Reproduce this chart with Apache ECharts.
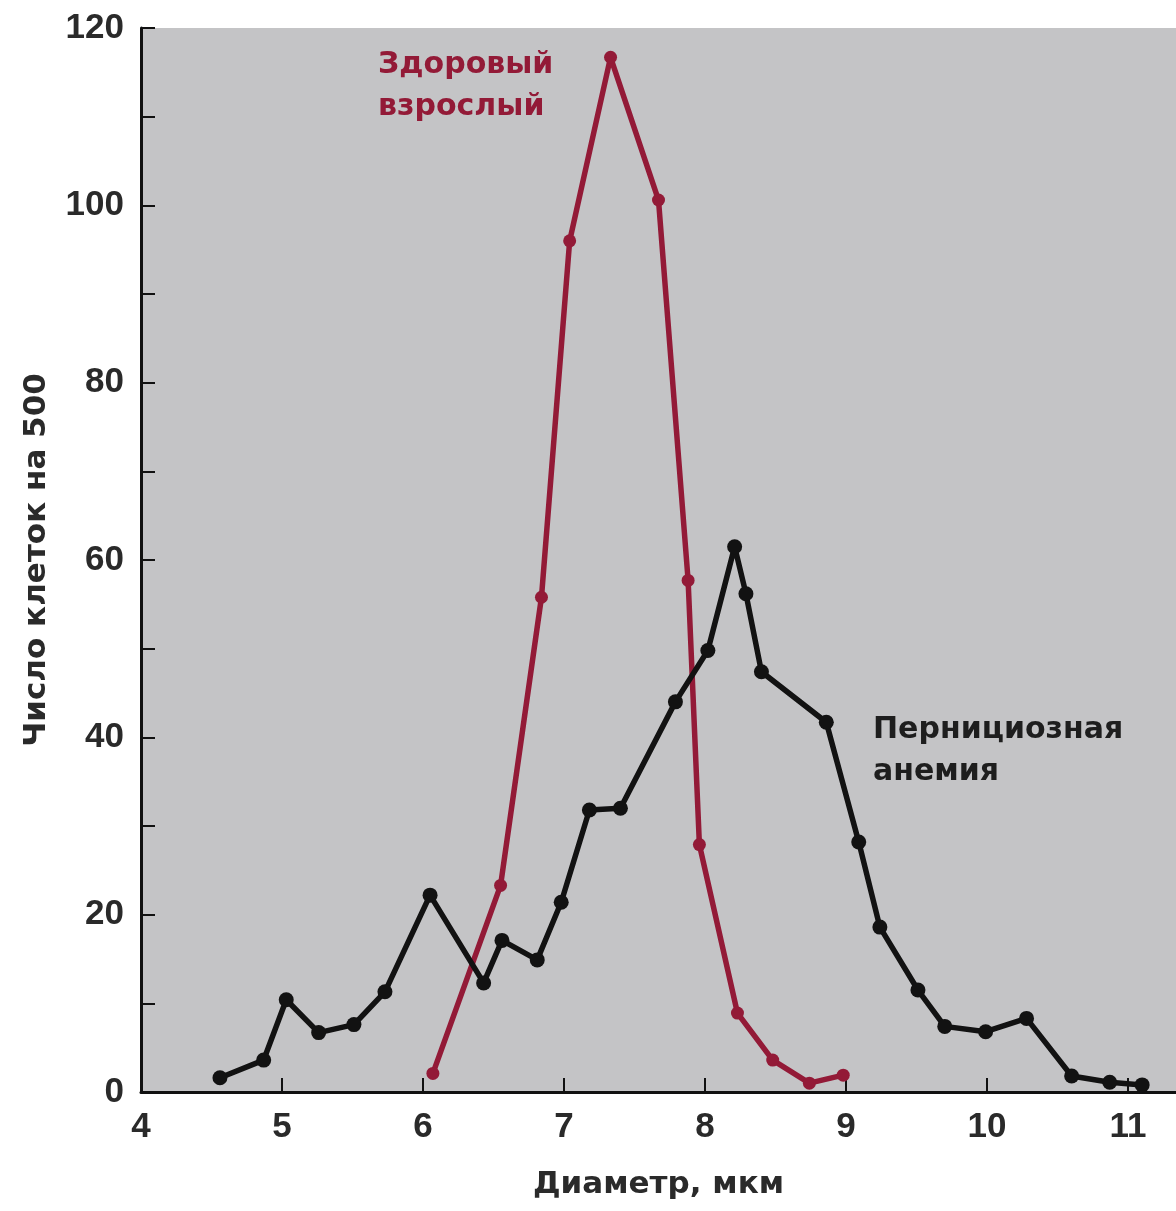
<!DOCTYPE html>
<html>
<head>
<meta charset="utf-8">
<script src="https://cdn.jsdelivr.net/npm/echarts@6/dist/echarts.min.js"></script>
<style>
  html, body { margin: 0; padding: 0; background: #fff; }
  #chart { width: 1176px; height: 1211px; }
</style>
</head>
<body>
<div id="chart"></div>
<script>
// Здоровый взрослый (диаметр, число клеток)
const healthyX = [6.07, 6.55, 6.84, 7.04, 7.33, 7.67, 7.88, 7.96, 8.23, 8.48, 8.74, 8.98];
const healthyY = [2.1, 23.3, 55.8, 96, 116.7, 100.6, 57.7, 27.9, 8.9, 3.6, 1.0, 1.9];

// Пернициозная анемия
const anemiaX = [4.56, 4.87, 5.03, 5.26, 5.51, 5.73, 6.05, 6.43, 6.56, 6.81, 6.98, 7.18, 7.40,
  7.79, 8.02, 8.21, 8.29, 8.40, 8.86, 9.09, 9.24, 9.51, 9.70, 9.99, 10.28, 10.60, 10.87, 11.10];
const anemiaY = [1.6, 3.6, 10.4, 6.7, 7.6, 11.3, 22.2, 12.3, 17.1, 14.9, 21.4, 31.8, 32.0,
  44.0, 49.8, 61.5, 56.2, 47.4, 41.7, 28.2, 18.6, 11.5, 7.4, 6.8, 8.3, 1.8, 1.1, 0.8];

const xTicks = [4, 5, 6, 7, 8, 9, 10, 11];
const yTicks = [0, 20, 40, 60, 80, 100, 120];

const healthyColor = "#931a37";
const anemiaColor = "#121212";
const numFont = "Liberation Sans";
const textFont = "DejaVu Sans";

const zip = (xs, ys) => xs.map((x, i) => [x, ys[i]]);

const chart = echarts.init(document.getElementById("chart"));
chart.setOption({
  animation: false,
  backgroundColor: "#ffffff",
  grid: {
    left: 141,
    top: 28,
    right: 0,
    bottom: 119,
    show: true,
    backgroundColor: "#c4c4c6",
    borderWidth: 0,
  },
  xAxis: {
    type: "value",
    min: 4,
    max: 11.34,
    interval: 1,
    name: "Диаметр, мкм",
    nameLocation: "middle",
    nameGap: 77,
    nameTextStyle: { color: "#2a2a2a", fontSize: 31, fontWeight: "bold", fontFamily: textFont },
    axisLine: { show: true, lineStyle: { color: "#111", width: 3 } },
    axisTick: { show: true, inside: true, length: 14, lineStyle: { color: "#111", width: 2 } },
    splitLine: { show: false },
    axisLabel: {
      color: "#2a2a2a",
      fontSize: 35,
      fontWeight: "bold",
      fontFamily: numFont,
      margin: 18,
      showMaxLabel: false,
      formatter: (v) => (xTicks.includes(v) ? String(v) : ""),
    },
  },
  yAxis: {
    type: "value",
    min: 0,
    max: 120,
    interval: 20,
    name: "Число клеток на 500",
    nameLocation: "middle",
    nameGap: 89,
    nameRotate: 90,
    nameTextStyle: { color: "#2a2a2a", fontSize: 31, fontWeight: "bold", fontFamily: textFont },
    axisLine: { show: true, lineStyle: { color: "#111", width: 3 } },
    axisTick: { show: true, inside: true, length: 14, lineStyle: { color: "#111", width: 2 } },
    minorTick: { show: true, splitNumber: 2, length: 14, lineStyle: { color: "#111", width: 2 } },
    splitLine: { show: false },
    axisLabel: {
      color: "#2a2a2a",
      fontSize: 35,
      fontWeight: "bold",
      fontFamily: numFont,
      margin: 17,
      formatter: (v) => (yTicks.includes(v) ? String(v) : ""),
    },
  },
  series: [
    {
      name: "Здоровый взрослый",
      type: "line",
      data: zip(healthyX, healthyY),
      symbol: "circle",
      symbolSize: 13,
      itemStyle: { color: healthyColor },
      lineStyle: { color: healthyColor, width: 5.5 },
      z: 3,
    },
    {
      name: "Пернициозная анемия",
      type: "line",
      data: zip(anemiaX, anemiaY),
      symbol: "circle",
      symbolSize: 15,
      itemStyle: { color: anemiaColor },
      lineStyle: { color: anemiaColor, width: 5.5 },
      z: 4,
    },
  ],
  graphic: [
    {
      type: "text",
      left: 378,
      top: 44,
      style: {
        text: "Здоровый\nвзрослый",
        fill: healthyColor,
        font: "bold 30px " + textFont,
        lineHeight: 42,
      },
    },
    {
      type: "text",
      left: 873,
      top: 709,
      style: {
        text: "Пернициозная\nанемия",
        fill: "#1e1e1e",
        font: "bold 30px " + textFont,
        lineHeight: 42,
      },
    },
  ],
});
</script>
</body>
</html>
